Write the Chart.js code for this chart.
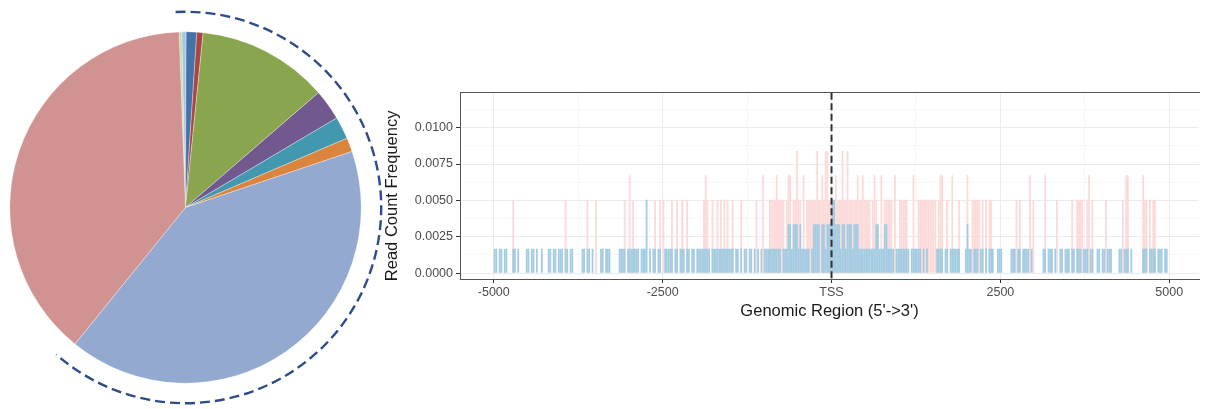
<!DOCTYPE html>
<html>
<head>
<meta charset="utf-8">
<script src="https://cdn.jsdelivr.net/npm/chart.js@4.4.1/dist/chart.umd.min.js"></script>
<style>
  html, body { margin: 0; padding: 0; background: #fff; }
  body { width: 1207px; height: 409px; position: relative; overflow: hidden; }
  #pieBox { position: absolute; left: 0; top: 0; width: 400px; height: 409px; }
  #covBox { position: absolute; left: 380px; top: 80px; width: 827px; height: 250px; }
</style>
</head>
<body>
<div id="pieBox"><canvas id="pie"></canvas></div>
<div id="covBox"><canvas id="cov"></canvas></div>
<script>
// ---- pie: share of each annotation slice (%), clockwise from the top
const annoKeys   = ['s1', 's2', 's3', 's4', 's5', 's6', 's7', 's8', 's9', 's10'];
const annoShare  = [0.25, 0.39, 0.97, 0.58, 12.06, 2.83, 2.06, 1.28, 41.0, 38.58];
const annoColors = ['#c6d9a0', '#a5c5e5', '#4572a7', '#aa4643', '#89a54e',
                    '#71588f', '#4198af', '#db843d', '#93a9cf', '#d19392'];
const arcLastSlice = 8;   // dashed arc runs over slices 0..8

// ---- coverage: read counts per 25 bp bin, -5000 .. 5000
const binStart = -5000;
const binWidth = 25;
const readUnit = 0.00168;  // frequency of one read
const tssPos = 0;

const blueCounts = [
  1,1,0,1,1,0,1,1,0,0, 0,1,1,0,1,0,0,0,0,1, 1,0,1,1,0,1,0,0,1,0, 0,0,1,1,0,1,1,0,1,1,
  1,0,1,1,0,1,1,0,0,0, 0,0,1,1,0,1,1,0,1,0, 0,0,0,1,1,0,1,1,1,0, 0,0,0,0,1,1,1,1,0,1,
  1,1,1,1,1,1,0,1,1,1, 3,0,1,0,1,1,0,1,1,0, 0,1,1,1,1,1,0,1,1,0, 1,1,1,0,1,1,0,1,1,0,
  1,1,1,1,1,1,1,1,0,1, 1,1,1,1,1,1,1,1,1,1, 1,1,0,1,1,0,1,0,1,1, 0,1,1,0,1,0,1,0,1,0,
  1,1,1,1,1,1,1,1,1,1, 0,1,1,1,2,2,1,2,2,2, 1,2,1,1,1,1,1,0,1,2, 2,2,2,0,2,2,1,2,2,2,
  3,3,2,2,2,1,2,2,1,2, 2,2,1,2,2,2,1,1,1,1, 1,1,1,1,1,1,2,2,1,1, 1,2,2,1,1,1,1,0,1,1,
  1,1,1,1,1,1,0,1,1,1, 1,1,1,0,1,0,1,0,0,0, 0,0,1,1,1,1,0,1,1,0, 1,1,1,1,1,1,0,0,0,1,
  2,1,1,0,1,1,1,0,1,1, 0,1,0,1,1,1,0,0,1,1, 1,0,0,0,0,0,1,1,1,0, 1,1,0,1,1,1,1,0,1,0,
  0,0,0,0,0,1,1,0,1,1, 1,0,1,0,0,1,1,0,1,1, 1,0,1,1,0,1,1,1,0,1, 1,1,0,1,1,0,0,1,1,0,
  1,1,0,1,1,1,0,0,0,0, 1,1,0,1,1,1,0,1,0,0, 0,0,0,0,1,1,1,0,1,1, 1,1,0,1,1,1,0,1,1,0
];

const pinkCounts = [
  0,0,0,0,0,0,0,0,0,0, 0,3,0,0,0,0,0,0,0,0, 0,0,0,0,0,0,0,0,0,0, 0,0,0,0,0,0,0,0,0,0,
  0,0,3,0,0,0,0,0,0,0, 0,0,0,0,0,3,0,0,0,0, 3,0,0,0,0,0,0,0,0,0, 0,0,0,0,0,0,0,3,0,0,
  4,0,3,0,0,0,0,0,0,0, 0,0,0,0,0,3,0,0,3,0, 3,0,0,0,0,3,0,0,3,0, 0,3,0,0,3,0,0,0,0,0,
  0,0,0,0,3,4,3,0,0,3, 0,0,3,0,3,0,3,0,3,0, 0,3,0,0,0,0,3,0,0,0, 0,0,0,0,0,3,0,0,0,4,
  0,0,0,3,3,3,3,4,3,3, 3,3,0,3,4,4,0,3,3,5, 3,3,0,4,0,3,3,3,3,3, 3,5,3,3,4,3,5,5,3,3,
  3,3,4,3,3,3,5,3,3,5, 3,3,3,3,3,4,3,3,4,3, 3,3,3,0,3,4,3,0,0,4, 0,3,3,3,3,3,0,4,0,0,
  3,3,3,3,3,0,0,0,4,0, 0,3,3,3,3,3,3,3,3,3, 3,3,0,3,4,4,0,0,3,0, 0,4,0,0,0,3,0,0,0,0,
  4,0,0,3,3,3,3,3,0,3, 0,3,0,3,3,0,0,0,0,0, 0,0,0,0,0,0,0,0,0,3, 0,3,0,0,0,0,0,4,0,3,
  0,0,0,0,0,0,4,0,0,0, 0,0,0,3,0,0,0,0,0,0, 0,0,3,0,0,3,3,3,3,0, 0,3,4,0,3,0,0,0,0,0,
  0,0,3,0,0,0,0,0,0,0, 0,0,3,0,4,4,0,0,0,0, 0,0,0,0,4,3,3,0,3,0, 3,3,0,0,0,0,0,0,0,0
];

// axis ticks: every 1250 bp / 0.00125, labels on the major ones only
const xTicks  = [-5000, -3750, -2500, -1250, 0, 1250, 2500, 3750, 5000];
const xLabels = ['-5000', '', '-2500', '', 'TSS', '', '2500', '', '5000'];
const yTicks  = [0, 0.00125, 0.0025, 0.00375, 0.005, 0.00625, 0.0075, 0.00875, 0.01, 0.01125];
const yLabels = ['0.0000', '', '0.0025', '', '0.0050', '', '0.0075', '', '0.0100', ''];
const xMin = -5500, xMax = 5440;
const yMin = -0.0004, yMax = 0.0124;
const xTitle = "Genomic Region (5'->3')";
const yTitle = 'Read Count Frequency';

const FONT = "'Liberation Sans', Arial, sans-serif";
Chart.defaults.font.family = FONT;
Chart.defaults.animation = false;

// ---------- pie ----------
const annoArc = {
  id: 'annoArc',
  afterDatasetsDraw(chart) {
    const arcs = chart.getDatasetMeta(0).data;
    const first = arcs[0], last = arcs[arcLastSlice];
    const ctx = chart.ctx;
    ctx.save();
    ctx.beginPath();
    ctx.arc(first.x, first.y, first.outerRadius + 20, first.startAngle - 0.014, last.endAngle + 0.04);
    ctx.setLineDash([10, 5]);
    ctx.lineWidth = 2.4;
    ctx.strokeStyle = '#2e4c8a';
    ctx.stroke();
    ctx.restore();
  }
};

new Chart(document.getElementById('pie'), {
  type: 'pie',
  data: {
    labels: annoKeys,
    datasets: [{
      data: annoShare,
      backgroundColor: annoColors,
      borderColor: 'rgba(255,255,255,0.55)',
      borderWidth: 0.6,
      hoverOffset: 0
    }]
  },
  options: {
    responsive: true,
    maintainAspectRatio: false,
    rotation: -2.1,
    layout: { padding: { left: 9.5, right: 38.5, top: 31.5, bottom: 25.5 } },
    plugins: { legend: { display: false }, tooltip: { enabled: false } }
  },
  plugins: [annoArc]
});

// ---------- coverage ----------
const binCenters = blueCounts.map((_, i) => binStart + binWidth * (i + 0.5));
const toPoints = counts => counts.map((c, i) => ({ x: binCenters[i], y: c * readUnit }));

const tssLine = {
  id: 'tssLine',
  afterDatasetsDraw(chart) {
    const { ctx, chartArea, scales } = chart;
    const x = scales.x.getPixelForValue(tssPos);
    ctx.save();
    ctx.beginPath();
    ctx.setLineDash([7, 3.5]);
    ctx.lineWidth = 2;
    ctx.strokeStyle = '#333';
    ctx.moveTo(x, chartArea.top);
    ctx.lineTo(x, chartArea.bottom);
    ctx.stroke();
    ctx.restore();
  }
};

// y title drawn by hand: it sits a little below the panel centre in the original
const yTitlePlugin = {
  id: 'yTitle',
  afterDraw(chart) {
    const { ctx, chartArea } = chart;
    ctx.save();
    ctx.translate(12.5, (chartArea.top + chartArea.bottom) / 2 + 10);
    ctx.rotate(-Math.PI / 2);
    ctx.font = '16.5px ' + FONT;
    ctx.fillStyle = '#1a1a1a';
    ctx.textAlign = 'center';
    ctx.textBaseline = 'middle';
    ctx.fillText(yTitle, 0, 0);
    ctx.restore();
  }
};

const major = (labels) => (c) => !!(c.tick && labels[c.index]);
const isMajorX = major(xLabels);
const isMajorY = major(yLabels);
const tickFont = { size: 12.5 };

new Chart(document.getElementById('cov'), {
  type: 'bar',
  data: {
    datasets: [
      {
        label: 'sample B',
        data: toPoints(blueCounts),
        backgroundColor: '#a3cce2',
        grouped: false,
        barPercentage: 1.06,
        categoryPercentage: 1,
        borderWidth: 0
      },
      {
        label: 'sample A',
        data: toPoints(pinkCounts),
        backgroundColor: '#fbdad9',
        grouped: false,
        barPercentage: 1.06,
        categoryPercentage: 1,
        borderWidth: 0
      }
    ]
  },
  options: {
    responsive: true,
    maintainAspectRatio: false,
    layout: { padding: { left: 0, right: 8, top: 12.7, bottom: 0 } },
    plugins: { legend: { display: false }, tooltip: { enabled: false } },
    scales: {
      x: {
        type: 'linear',
        min: xMin, max: xMax,
        offset: false,
        afterBuildTicks: s => { s.ticks = xTicks.map(v => ({ value: v })); },
        afterFit: s => { s.height = 51; },
        grid: {
          offset: false,
          color: c => isMajorX(c) ? '#ebebeb' : '#f4f4f4',
          lineWidth: c => isMajorX(c) ? 1 : 0.7,
          tickColor: c => isMajorX(c) ? '#333' : 'rgba(0,0,0,0)',
          tickLength: 4
        },
        border: { color: '#555', width: 1 },
        ticks: {
          autoSkip: false,
          maxRotation: 0,
          padding: 2,
          color: '#4d4d4d',
          font: tickFont,
          callback: (v, i) => xLabels[i]
        },
        title: {
          display: true,
          text: xTitle,
          color: '#1a1a1a',
          font: { size: 16.5 },
          padding: { top: 0, bottom: 9 }
        }
      },
      xTop: {
        type: 'linear',
        position: 'top',
        min: 0, max: 1,
        afterFit: s => { s.height = 0; },
        grid: { drawOnChartArea: false, drawTicks: false },
        ticks: { display: false },
        border: { color: '#555', width: 1 }
      },
      y: {
        min: yMin, max: yMax,
        afterBuildTicks: s => { s.ticks = yTicks.map(v => ({ value: v })); },
        afterFit: s => { s.width = 80; },
        grid: {
          color: c => isMajorY(c) ? '#ebebeb' : '#f4f4f4',
          lineWidth: c => isMajorY(c) ? 1 : 0.7,
          tickColor: c => isMajorY(c) ? '#333' : 'rgba(0,0,0,0)',
          tickLength: 4
        },
        border: { color: '#555', width: 1 },
        ticks: {
          autoSkip: false,
          padding: 3,
          color: '#4d4d4d',
          font: tickFont,
          callback: (v, i) => yLabels[i]
        }
      }
    }
  },
  plugins: [tssLine, yTitlePlugin]
});
</script>
</body>
</html>
